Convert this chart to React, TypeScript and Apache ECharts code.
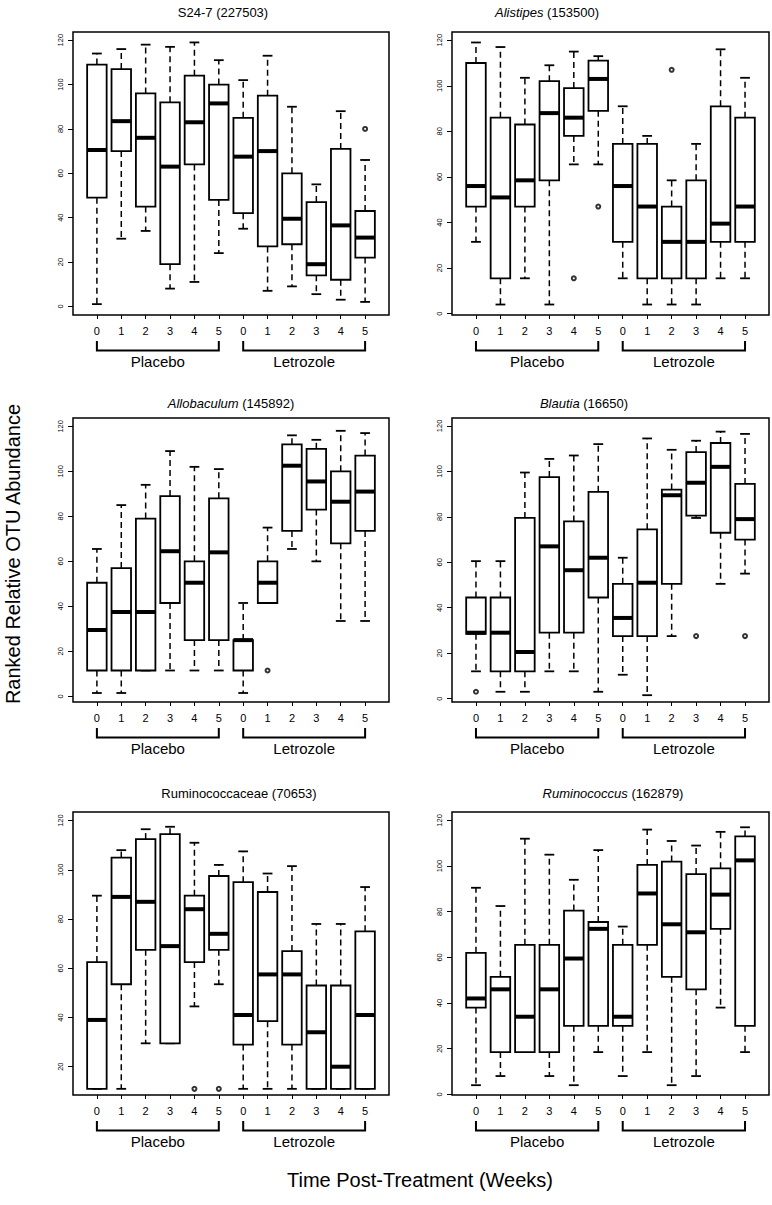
import React, { useEffect, useRef } from 'react';
import * as echarts from 'echarts';

// ---------- data ----------
const weekLabels = ['0', '1', '2', '3', '4', '5', '0', '1', '2', '3', '4', '5'];
const groupNames = ['Placebo', 'Letrozole'];
const yTickValues = [0, 20, 40, 60, 80, 100, 120];
const yAxisTitle = 'Ranked Relative OTU Abundance';
const xAxisTitle = 'Time Post-Treatment (Weeks)';

// each row: [min, q1, median, q3, max]
const s247Stats = [
  [1, 49, 70.5, 109, 114], [30.5, 70, 83.5, 107, 116], [34, 45, 76, 96, 118],
  [8, 19, 63, 92, 117], [11, 64, 83, 104, 119], [24, 48, 91.5, 100, 111],
  [35, 42, 67.5, 85, 102], [7, 27, 70, 95, 113], [9, 28, 39.5, 60, 90],
  [5.5, 14, 19, 47, 55], [3, 12, 36.5, 71, 88], [2, 22, 31, 43, 66],
];
const s247Outliers = [[11, 80]];

const alistipesStats = [
  [31.5, 47, 56, 110, 119], [4, 15.5, 51, 86, 117], [15.5, 47, 58.5, 83, 103.5],
  [4, 58.5, 88, 102, 109], [65.5, 78, 86, 99, 115], [65.5, 89, 103, 111, 113],
  [15.5, 31.5, 56, 74.5, 91], [4, 15.5, 47, 74.5, 78], [4, 15.5, 31.5, 47, 58.5],
  [4, 15.5, 31.5, 58.5, 74.5], [15.5, 31.5, 39.5, 91, 116], [15.5, 31.5, 47, 86, 103.5],
];
const alistipesOutliers = [[4, 15.5], [5, 47], [8, 107]];

const allobaculumStats = [
  [1.5, 11.5, 29.5, 50.5, 65.5], [1.5, 11.5, 37.5, 57, 85], [11.5, 11.5, 37.5, 79, 94],
  [11.5, 41.5, 64.5, 89, 109], [11.5, 25, 50.5, 60, 102], [11.5, 25, 64, 88, 101],
  [1.5, 11.5, 25, 25, 41.5], [41.5, 41.5, 50.5, 60, 75], [65.5, 73.5, 102.5, 112, 116],
  [60, 83, 95.5, 110, 114], [33.5, 68, 86.5, 100, 118], [33.5, 73.5, 91, 107, 117],
];
const allobaculumOutliers = [[7, 11.5]];

const blautiaStats = [
  [12, 28.5, 29, 44.5, 60.5], [3, 12, 29, 44.5, 60.5], [3, 12, 20.5, 79.5, 99.5],
  [12, 29, 67, 97.5, 105.5], [12, 29, 56.5, 78, 107], [3, 44.5, 62, 91, 112],
  [10.5, 27.5, 35.5, 50.5, 62], [1.5, 27.5, 51, 74.5, 114.5], [27.5, 50.5, 89.5, 92, 109.5],
  [79.5, 80.5, 95, 108.5, 113.5], [50.5, 73, 102, 112.5, 117.5], [55, 70, 79, 94.5, 116.5],
];
const blautiaOutliers = [[0, 3], [9, 27.5], [11, 27.5]];

const ruminococcaceaeStats = [
  [11, 11, 39, 62.5, 89.5], [11, 53.5, 89, 105, 108], [29.5, 67.5, 87, 112.5, 116.5],
  [29.5, 29.5, 69, 114.5, 117.5], [44.5, 62.5, 84, 89.5, 111], [53.5, 67.5, 74, 97.5, 102],
  [11, 29, 41, 95, 107.5], [11, 38.5, 57.5, 91, 98.5], [11, 29, 57.5, 67, 101.5],
  [11, 11, 34, 53, 78], [11, 11, 20, 53, 78], [11, 11, 41, 75, 93],
];
const ruminococcaceaeOutliers = [[4, 11], [5, 11]];

const ruminococcusStats = [
  [4, 38, 42, 62, 90.5], [8, 18.5, 46, 51.5, 82.5], [18.5, 18.5, 34, 65.5, 112],
  [8, 18.5, 46, 65.5, 105], [4, 30, 59.5, 80.5, 94], [18.5, 30, 72.5, 75.5, 107],
  [8, 30, 34, 65.5, 73.5], [18.5, 65.5, 88, 100.5, 116], [4, 51.5, 74.5, 102, 111],
  [8, 46, 71, 96.5, 109], [38, 72.5, 87.5, 99, 115], [18.5, 30, 102.5, 113, 117],
];
const ruminococcusOutliers: number[][] = [];

// ---------- layout ----------
const FONT = 'Liberation Sans, Arial, Helvetica, sans-serif';
const colLeft = [73, 452];
const colWidth = [316, 317];
const rowTop = [32, 418, 812];
const rowHeight = [283, 284, 283];
const titleY = [12, 403, 793];
const BOX_W = 0.8;
const CAP_W = 0.4;
const LW = 1.8;

const panels = [
  { italic: '', plain: 'S24-7 (227503)', stats: s247Stats, outliers: s247Outliers, yMin: -3.9, yMax: 123.7, col: 0, row: 0, titleX: 223 },
  { italic: 'Alistipes', plain: ' (153500)', stats: alistipesStats, outliers: alistipesOutliers, yMin: -0.6, yMax: 123.6, col: 1, row: 0, titleX: 547 },
  { italic: 'Allobaculum', plain: ' (145892)', stats: allobaculumStats, outliers: allobaculumOutliers, yMin: -2.5, yMax: 123.7, col: 0, row: 1, titleX: 231 },
  { italic: 'Blautia', plain: ' (16650)', stats: blautiaStats, outliers: blautiaOutliers, yMin: -1.5, yMax: 123.5, col: 1, row: 1, titleX: 584 },
  { italic: '', plain: 'Ruminococcaceae (70653)', stats: ruminococcaceaeStats, outliers: ruminococcaceaeOutliers, yMin: 8.5, yMax: 123.5, col: 0, row: 2, titleX: 239 },
  { italic: 'Ruminococcus', plain: ' (162879)', stats: ruminococcusStats, outliers: ruminococcusOutliers, yMin: -0.3, yMax: 123.7, col: 1, row: 2, titleX: 613 },
];

const xPositions = weekLabels.map((_, i) => i);

function renderBox(params: any, api: any) {
  const x = api.value(0);
  const lo = api.value(1), q1 = api.value(2), med = api.value(3), q3 = api.value(4), hi = api.value(5);
  const w = api.size([BOX_W, 0])[0];
  const cw = api.size([CAP_W, 0])[0];
  const [px, pLo] = api.coord([x, lo]);
  const pQ1 = api.coord([x, q1])[1];
  const pMed = api.coord([x, med])[1];
  const pQ3 = api.coord([x, q3])[1];
  const pHi = api.coord([x, hi])[1];
  const solid = { stroke: '#000', lineWidth: LW, fill: 'none' };
  const dashed = { stroke: '#000', lineWidth: 1.5, lineDash: [6, 4] };
  const children: any[] = [];
  if (hi > q3) children.push({ type: 'line', shape: { x1: px, y1: pQ3, x2: px, y2: pHi }, style: dashed });
  if (lo < q1) children.push({ type: 'line', shape: { x1: px, y1: pQ1, x2: px, y2: pLo }, style: dashed });
  children.push({ type: 'line', shape: { x1: px - cw / 2, y1: pHi, x2: px + cw / 2, y2: pHi }, style: solid });
  children.push({ type: 'line', shape: { x1: px - cw / 2, y1: pLo, x2: px + cw / 2, y2: pLo }, style: solid });
  children.push({ type: 'rect', shape: { x: px - w / 2, y: pQ3, width: w, height: pQ1 - pQ3 }, style: { stroke: '#000', lineWidth: LW, fill: '#fff' } });
  children.push({ type: 'line', shape: { x1: px - w / 2, y1: pMed, x2: px + w / 2, y2: pMed }, style: { stroke: '#000', lineWidth: 4 } });
  return { type: 'group', children };
}

export default function App() {
  const ref = useRef<HTMLDivElement>(null);
  useEffect(() => {
    if (!ref.current) return;
    const chart = echarts.init(ref.current, null, { renderer: 'svg' });
    const option: any = {
      animation: false,
      backgroundColor: '#fff',
      grid: panels.map((p) => ({
        left: colLeft[p.col], top: rowTop[p.row], width: colWidth[p.col], height: rowHeight[p.row],
        show: true, borderColor: '#000', borderWidth: 1.5, backgroundColor: 'transparent',
        containLabel: false, outerBoundsMode: 'none',
      })),
      xAxis: panels.map((p, i) => ({
        type: 'value', gridIndex: i, min: -0.98, max: 11.98, position: 'bottom',
        axisLine: { show: false, onZero: false }, splitLine: { show: false },
        axisTick: { show: true, customValues: xPositions, length: 4, lineStyle: { color: '#000', width: 1 } },
        axisLabel: {
          customValues: xPositions, formatter: (v: number) => weekLabels[Math.round(v)],
          color: '#000', fontSize: 11, margin: 10, fontFamily: FONT,
        },
      })),
      yAxis: panels.map((p, i) => {
        const ticks = yTickValues.filter((v) => v >= p.yMin && v <= p.yMax);
        return {
          type: 'value', gridIndex: i, min: p.yMin, max: p.yMax, position: 'left',
          axisLine: { show: false, onZero: false }, splitLine: { show: false },
          axisTick: { show: true, customValues: ticks, length: 5, lineStyle: { color: '#000', width: 1 } },
          axisLabel: { customValues: ticks, rotate: 90, color: '#000', fontSize: 7.5, margin: 9, fontFamily: FONT },
        };
      }),
      series: panels.flatMap((p, i) => [
        {
          type: 'custom', xAxisIndex: i, yAxisIndex: i,
          renderItem: renderBox,
          encode: { x: 0, y: [1, 2, 3, 4, 5] },
          data: p.stats.map((s, k) => [k, ...s]),
          silent: true,
        },
        {
          type: 'scatter', xAxisIndex: i, yAxisIndex: i,
          symbol: 'emptyCircle', symbolSize: 4,
          itemStyle: { color: '#000', borderWidth: 1 },
          data: p.outliers,
          silent: true,
          z: 5,
        },
      ]),
    };
    chart.setOption(option);

    const graphics: any[] = [];
    panels.forEach((p, i) => {
      const pix = (x: number) => chart.convertToPixel({ gridIndex: i }, [x, p.yMin]) as number[];
      const bottom = pix(0)[1];
      const y1 = bottom + 26;
      const y2 = bottom + 35.5;
      [[0, 5], [6, 11]].forEach(([a, b], gi) => {
        const xa = pix(a)[0];
        const xb = pix(b)[0];
        graphics.push({
          type: 'polyline', silent: true,
          shape: { points: [[xa, y1], [xa, y2], [xb, y2], [xb, y1]] },
          style: { stroke: '#000', lineWidth: 2, fill: 'none' },
        });
        graphics.push({
          type: 'text', silent: true, x: (xa + xb) / 2, y: bottom + 46,
          style: { text: groupNames[gi], fontSize: 15, fontFamily: FONT, fill: '#000', align: 'center', verticalAlign: 'middle' },
        });
      });
      const text = p.italic ? `{i|${p.italic}}${p.plain}` : p.plain;
      graphics.push({
        type: 'text', silent: true, x: p.titleX, y: titleY[p.row],
        style: {
          text, fontSize: 13, fontFamily: FONT, fill: '#000', align: 'center', verticalAlign: 'middle',
          rich: { i: { fontStyle: 'italic', fontSize: 13, fontFamily: FONT, fill: '#000' } },
        },
      });
    });
    graphics.push({
      type: 'text', silent: true, x: 13, y: 554, rotation: Math.PI / 2,
      style: { text: yAxisTitle, fontSize: 20, fontFamily: FONT, fill: '#000', align: 'center', verticalAlign: 'middle' },
    });
    graphics.push({
      type: 'text', silent: true, x: 420, y: 1180,
      style: { text: xAxisTitle, fontSize: 20, fontFamily: FONT, fill: '#000', align: 'center', verticalAlign: 'middle' },
    });
    chart.setOption({ graphic: graphics });

    return () => chart.dispose();
  }, []);
  return <div ref={ref} style={{ position: 'absolute', left: 0, top: 0, width: 772, height: 1205 }} />;
}
